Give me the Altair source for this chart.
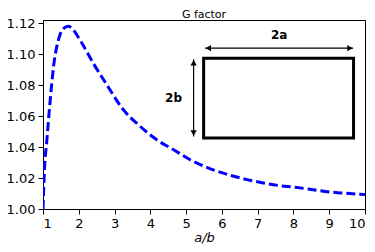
import altair as alt
import pandas as pd

# G factor curve
ratio = [1.0, 1.04, 1.11, 1.185, 1.3, 1.44, 1.55, 1.71, 1.85, 2.04, 2.41, 2.79, 3.25,
         3.72, 4.18, 4.65, 5.1, 5.49, 5.86, 6.28, 6.70, 7.16, 7.58, 8.05, 8.42, 8.84,
         9.3, 9.77, 10.0]
gfac = [1.0, 1.025, 1.045, 1.066, 1.093, 1.110, 1.116, 1.118, 1.1155, 1.109, 1.094, 1.080, 1.064,
        1.0533, 1.0447, 1.0383, 1.032, 1.0278, 1.0245, 1.0215, 1.019, 1.0168, 1.0152, 1.014,
        1.0129, 1.0115, 1.0104, 1.0097, 1.0093]

# inset sketch (in data coordinates)
rect_x = [5.49]
rect_x2 = [9.68]
rect_y = [1.0458]
rect_y2 = [1.0974]

arrow_x = [5.53, 5.21]
arrow_x2 = [9.67, 5.21]
arrow_y = [1.1039, 1.0968]
arrow_y2 = [1.1039, 1.0468]

head_x = [5.62, 9.58, 5.21, 5.21]
head_y = [1.1039, 1.1039, 1.0945, 1.0491]
head_shape = ["triangle-left", "triangle-right", "triangle-up", "triangle-down"]

label_text = ["2a", "2b"]
label_x = [7.6, 4.65]
label_y = [1.1125, 1.0716]

x_ticks = [1, 2, 3, 4, 5, 6, 7, 8, 9, 10]
y_ticks = [1.0, 1.02, 1.04, 1.06, 1.08, 1.10, 1.12]

FONT = "DejaVu Sans"

xs = alt.Scale(domain=[1, 10], nice=False, zero=False)
ys = alt.Scale(domain=[1.0, 1.1221], nice=False, zero=False)
ax_x = alt.Axis(values=x_ticks, format="d", labelOverlap=False)
ax_y = alt.Axis(values=y_ticks, format=".2f", labelOverlap=False)


def X(f):
    return alt.X(f, scale=xs, axis=ax_x, title="a/b")


def Y(f):
    return alt.Y(f, scale=ys, axis=ax_y, title=None)


curve = pd.DataFrame({"x": ratio, "y": gfac})
line = alt.Chart(curve).mark_line(
    color="#0000ff", strokeWidth=3, strokeDash=[9, 4], interpolate="monotone", clip=True
).encode(x=X("x:Q"), y=Y("y:Q"))

rect = alt.Chart(pd.DataFrame({"x": rect_x, "x2": rect_x2, "y": rect_y, "y2": rect_y2})).mark_rect(
    fill=None, stroke="black", strokeWidth=3
).encode(x=X("x:Q"), x2="x2:Q", y=Y("y:Q"), y2="y2:Q")

arrows = alt.Chart(pd.DataFrame({"x": arrow_x, "x2": arrow_x2, "y": arrow_y, "y2": arrow_y2})).mark_rule(
    color="black", strokeWidth=1.2
).encode(x=X("x:Q"), x2="x2:Q", y=Y("y:Q"), y2="y2:Q")

heads = alt.Chart(pd.DataFrame({"x": head_x, "y": head_y, "s": head_shape})).mark_point(
    filled=True, color="black", size=40, opacity=1
).encode(x=X("x:Q"), y=Y("y:Q"), shape=alt.Shape("s:N", scale=None))

labels = alt.Chart(pd.DataFrame({"t": label_text, "x": label_x, "y": label_y})).mark_text(
    font=FONT, fontSize=12, fontWeight="bold", color="black"
).encode(x=X("x:Q"), y=Y("y:Q"), text="t:N")

chart = alt.layer(line, rect, arrows, heads, labels).properties(
    width=322, height=189,
    background="white",
    title=alt.TitleParams("G factor", font=FONT, fontSize=11, fontWeight="normal",
                          color="black", anchor="middle", offset=0, baseline="alphabetic", dy=12),
    autosize=alt.AutoSizeParams(type="none"),
    padding={"left": 35, "top": 12, "right": 2, "bottom": 35},
).configure_view(stroke="black", strokeWidth=1).configure_axis(
    labelFont=FONT, labelFontSize=13, labelColor="black", tickColor="black", tickSize=5,
    domainColor="black", grid=False, titleFont=FONT, titleFontSize=13, titleColor="black",
    titleFontWeight="normal", labelPadding=3,
).configure_axisX(titleFontStyle="italic", titlePadding=1)

chart.save("out.html", embed_options={"renderer": "svg", "actions": False})
